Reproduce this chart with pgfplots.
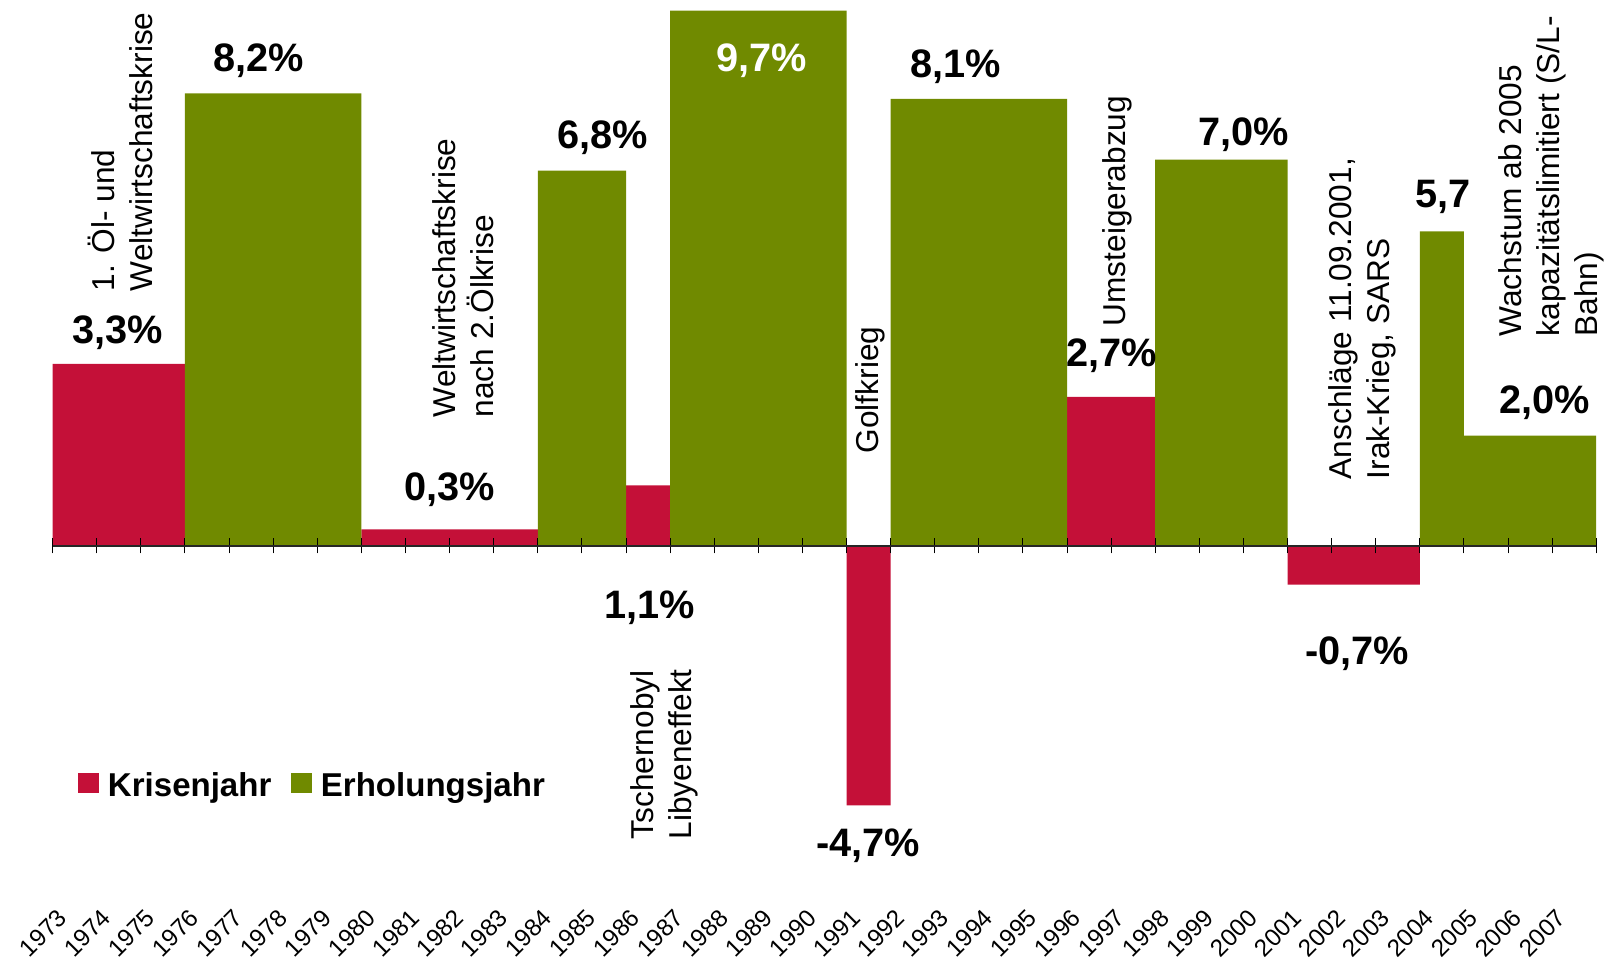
\documentclass[border=0pt]{standalone}
\usepackage{fontspec}
\setmainfont{Liberation Sans}
\usepackage{pgfplots}
\pgfplotsset{compat=1.18}
\definecolor{krot}{RGB}{196,16,56}
\definecolor{kgruen}{RGB}{112,138,0}
\newcommand\vl{\fontsize{11.3}{13.5}\selectfont\bfseries}
\newcommand\an{\fontsize{9}{10.8}\selectfont}
\begin{document}
\begin{tikzpicture}
\begin{axis}[
  scale only axis, width=154.35mm, height=95.9mm,
  xmin=0, xmax=35, ymin=-7.482, ymax=9.891,
  axis x line=middle, axis y line=none,
  axis on top=true,
  x axis line style={-, line width=0.17mm, color=black!85},
  xtick={0,...,35},
  xticklabels={1973,1974,1975,1976,1977,1978,1979,1980,1981,1982,1983,1984,1985,1986,1987,1988,1989,1990,1991,1992,1993,1994,1995,1996,1997,1998,1999,2000,2001,2002,2003,2004,2005,2006,2007,{}},
  hide obscured x ticks=false,
  major tick length=1.5mm,
  xtick align=center,
  major x tick style={line width=0.1mm, black},
  xticklabel shift=36.0mm,
  xticklabel style={font=\fontsize{6.9}{8}\selectfont, inner sep=0pt, xshift=1.0mm, rotate=45, anchor=east},
  ytick=\empty,
  clip=false,
  legend columns=2,
  legend style={at={(0.01639,0.179)}, anchor=west, draw=none, fill=none, inner sep=0pt, outer sep=0pt, column sep=0.9mm, font=\fontsize{9.4}{11}\selectfont\bfseries, nodes={inner sep=0pt}},
  legend image code/.code={\fill[#1] (0mm,-0.5mm) rectangle (2.1mm,1.5mm);},
]
\addplot[ybar interval, fill=krot, draw=none] coordinates {
  (0,3.3) (3,0) (7,0.3) (11,0) (13,1.1) (14,0) (18,-4.7) (19,0) (23,2.7) (25,0) (28,-0.7) (31,0) (35,0)};
\addlegendentry{Krisenjahr}
\addplot[ybar interval, fill=kgruen, draw=none,
  legend image code/.code={\path (-1.05mm,0);\fill[kgruen] (0mm,-0.5mm) rectangle (2.1mm,1.5mm);}] coordinates {
  (0,0) (3,8.2) (7,0) (11,6.8) (13,0) (14,9.7) (18,0) (19,8.1) (23,0) (25,7.0) (28,0) (31,5.7) (32,2.0) (35,0)};
\addlegendentry{Erholungsjahr}
\coordinate (SW) at (rel axis cs:0,0);
\end{axis}
\pgfresetboundingbox
\path[use as bounding box] (SW) ++(-5.27mm,0) rectangle ++(160.8mm,95.9mm);
\path (SW) ++(-5.27mm,95.9mm) coordinate (TL);
\begin{scope}[shift={(TL)}, x=0.1mm, y=-0.1mm]
  \begin{scope}[every node/.style={font=\vl, inner sep=0pt}]
  \node at (118,333) {3,3\%};
  \node at (259,61) {8,2\%};
  \node at (450,490) {0,3\%};
  \node at (603,138) {6,8\%};
  \node at (650,608) {1,1\%};
  \node[text=white] at (762,61) {9,7\%};
  \node at (868,846) {-4,7\%};
  \node at (956,67) {8,1\%};
  \node at (1112,356) {2,7\%};
  \node at (1244,135) {7,0\%};
  \node at (1357,654) {-0,7\%};
  \node at (1443,197) {5,7};
  \node at (1545,403) {2,0\%};
  \end{scope}
  \begin{scope}[every node/.style={font=\an, inner sep=0pt, rotate=90, anchor=north west, align=left}]
  \node at (87,292) {1. Öl- und\\Weltwirtschaftskrise};
  \node at (432,418) {Weltwirtschaftskrise\\nach 2.Ölkrise};
  \node at (630,840) {Tschernobyl\\Libyeneffekt};
  \node at (855,454) {Golfkrieg};
  \node at (1102,327) {Umsteigerabzug};
  \node at (1328,480) {Anschläge 11.09.2001,\\Irak-Krieg, SARS};
  \node at (1498,337) {Wachstum ab 2005\\kapazitätslimitiert (S/L-\\Bahn)};
  \end{scope}
\end{scope}
\end{tikzpicture}
\end{document}
